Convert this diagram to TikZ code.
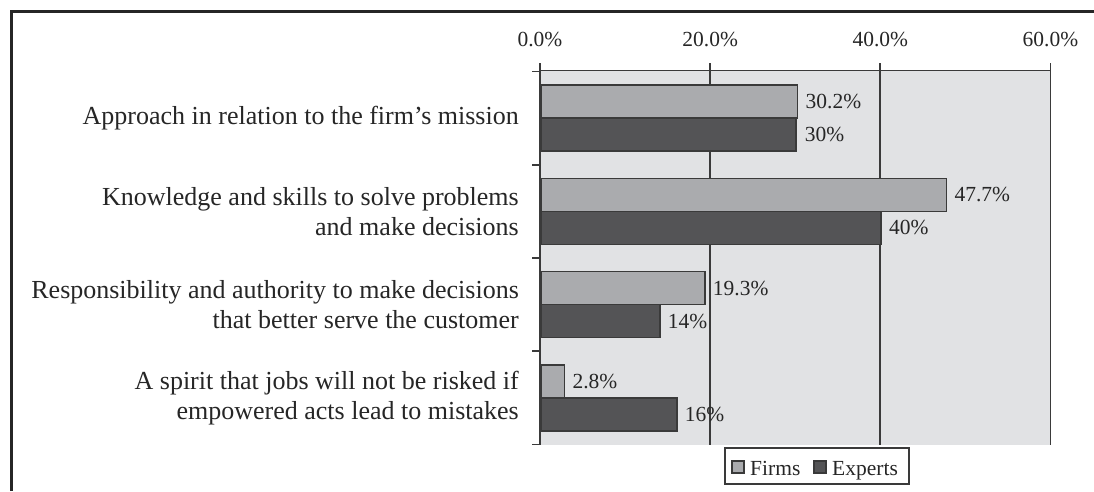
\documentclass[tikz,border=0pt]{standalone}
\usepackage{fontspec}
\setmainfont{Liberation Serif}
\definecolor{plotbg}{HTML}{E1E2E4}
\definecolor{firmc}{HTML}{AAABAE}
\definecolor{expc}{HTML}{545456}
\definecolor{linec}{HTML}{3A3A3A}
\tikzset{
  gridline/.style={draw=linec, line width=1.8pt},
  axisline/.style={draw=linec, line width=1.8pt},
  barbase/.style={draw=linec, line width=1.5pt, inner sep=0pt, minimum height=33pt, anchor=west},
  firmbar/.style={barbase, fill=firmc},
  expbar/.style={barbase, fill=expc},
  vallabel/.style={inner sep=0pt, anchor=west, text=black!85, font=\fontsize{21.5}{24}\selectfont},
  ticklabel/.style={inner sep=0pt, anchor=base, text=black!85, font=\fontsize{21.5}{24}\selectfont},
  catlabel/.style={inner sep=0pt, anchor=east, align=right, text=black!85, font=\fontsize{26}{30}\selectfont},
  legsq/.style={draw=linec, line width=1.3pt, minimum size=12pt, inner sep=0pt},
  legtext/.style={inner sep=0pt, anchor=base west, text=black!85, font=\fontsize{21.5}{24}\selectfont},
}
\begin{document}
\begin{tikzpicture}[x=1pt,y=-1pt]
\useasboundingbox (0,0) rectangle (1094,491);
\fill[white] (0,0) rectangle (1094,491);
% outer frame
\draw[line width=2.4pt, black!85] (11.5,491) -- (11.5,11.5) -- (1094,11.5);
% plot area
\fill[plotbg] (540,70.5) rectangle (1050.5,444.5);
\foreach \v in {20,40,60} {
  \draw[gridline] ({540+\v*8.508},63) -- ({540+\v*8.508},444.5);
}
\draw[axisline] (540,63) -- (540,444.5);
\draw[axisline] (540,70.5) -- (1050.5,70.5);
\foreach \y in {71.5,164.75,258,351.25,444.5} {
  \draw[axisline] (532,\y) -- (540,\y);
}
% tick labels
\foreach \v/\t [count=\i] in {0/0.0,20/20.0,40/40.0,60/60.0} {
  \node[ticklabel] (tick\i) at ({540+\v*8.508},46) {\t\%};
}
% bars
\node[firmbar, minimum width={30.2*8.508pt}] (f1) at (540,101.6) {};
\node[expbar,  minimum width={30*8.508pt}]   (e1) at (540,134.6) {};
\node[firmbar, minimum width={47.7*8.508pt}] (f2) at (540,194.9) {};
\node[expbar,  minimum width={40*8.508pt}]   (e2) at (540,227.9) {};
\node[firmbar, minimum width={19.3*8.508pt}] (f3) at (540,288.1) {};
\node[expbar,  minimum width={14*8.508pt}]   (e3) at (540,321.1) {};
\node[firmbar, minimum width={2.8*8.508pt}]  (f4) at (540,381.4) {};
\node[expbar,  minimum width={16*8.508pt}]   (e4) at (540,414.4) {};
% value labels
\node[vallabel] (vf1) at ([xshift=7pt]f1.east) {30.2\%};
\node[vallabel] (ve1) at ([xshift=8pt]e1.east) {30\%};
\node[vallabel] (vf2) at ([xshift=7pt]f2.east) {47.7\%};
\node[vallabel] (ve2) at ([xshift=7pt]e2.east) {40\%};
\node[vallabel] (vf3) at ([xshift=7pt]f3.east) {19.3\%};
\node[vallabel] (ve3) at ([xshift=7pt]e3.east) {14\%};
\node[vallabel] (vf4) at ([xshift=7pt]f4.east) {2.8\%};
\node[vallabel] (ve4) at ([xshift=7pt]e4.east) {16\%};
% category labels
\node[catlabel] (c1) at (519,118.1) {Approach in relation to the firm’s mission};
\node[catlabel] (c2) at (519,211.4) {Knowledge and skills to solve problems\\and make decisions};
\node[catlabel] (c3) at (519,304.6) {Responsibility and authority to make decisions\\that better serve the customer};
\node[catlabel] (c4) at (519,397.9) {A spirit that jobs will not be risked if\\empowered acts lead to mistakes};
% legend
\node[draw=linec, line width=1.6pt, fill=white, minimum width=184pt, minimum height=36pt, inner sep=0pt] (leg) at (817,466) {};
\node[legsq, fill=firmc] (lsqf) at (738,467) {};
\node[legtext] (ltf) at (750,475) {Firms};
\node[legsq, fill=expc] (lsqe) at (820,467) {};
\node[legtext] (lte) at (832,475) {Experts};
\end{tikzpicture}
\end{document}
